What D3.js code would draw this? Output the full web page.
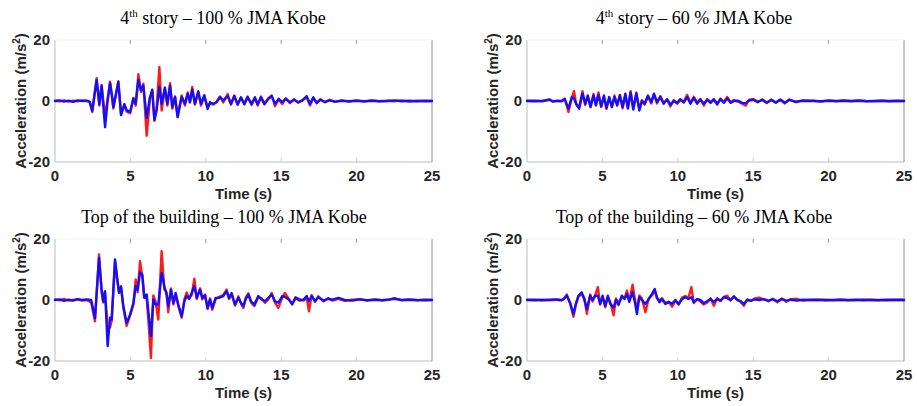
<!DOCTYPE html>
<html lang="en">
<head>
<meta charset="UTF-8">
<title>Acceleration response</title>
<script src="https://cdn.jsdelivr.net/npm/d3@7/dist/d3.min.js"></script>
<style>
  body { margin: 0; background: #fff; }
  .tick-label { font-family: "Liberation Sans", Arial, sans-serif; font-weight: bold; font-size: 15px; fill: #262626; }
  .axis-label { font-family: "Liberation Sans", Arial, sans-serif; font-weight: bold; font-size: 15px; fill: #262626; }
  .title { font-family: "Liberation Serif", "Times New Roman", serif; font-size: 18px; fill: #000; }
  .trace { fill: none; stroke-width: 2.4px; stroke-linejoin: round; stroke-linecap: round; }
</style>
</head>
<body>
<div id="chart"></div>
<script>
var xTicks = [0, 5, 10, 15, 20, 25];
var yTicks = [-20, 0, 20];

// 4th story - 100 %
var time1 = [0,0.3,0.6,0.9,1.2,1.5,1.8,2.1,2.3,
  2.47,2.76,2.94,3.09,3.32,3.49,3.65,3.76,3.87,
  4.2,4.38,4.6,4.75,4.98,5.2,5.35,5.53,5.7,5.86,
  6.08,6.3,6.45,6.59,6.74,6.92,7.07,7.29,7.45,7.63,
  7.78,7.96,8.13,8.4,8.62,8.8,8.95,9.1,9.28,9.5,
  9.68,9.9,10.12,10.28,10.5,10.72,10.94,11.16,11.45,11.67,
  11.89,12.11,12.33,12.56,12.77,13.04,13.26,13.44,13.66,13.88,
  14.15,14.37,14.59,14.83,15.07,15.3,15.58,15.85,16.13,16.4,
  16.69,16.91,17.13,17.35,17.6,17.9,18.2,18.57,19,19.5,
  20,20.5,21,21.5,22,22.5,23,23.5,24,24.5,
  25];
var blue1 = [0,0.2,-0.2,0.1,-0.3,0.2,0,0.1,-0.3,
  -3.2,6.8,-1.0,5.0,-8.6,0.2,5.8,2.4,-2.0,
  6.2,-4.6,-1.0,-3.0,-3.6,0.8,-0.9,7.0,3.5,5.0,
  -5.5,1.3,3.5,-6.2,-3.0,4.6,-0.9,4.4,-0.9,5.0,
  -2.0,1.3,-5.3,1.3,-0.9,2.4,-0.3,3.8,-0.9,3.0,
  -0.9,1.9,-2.6,-0.4,-0.9,-0.4,1.3,0.2,1.6,-0.9,
  1.6,-1.1,1.2,-1.1,1.2,-0.9,1.2,-1.1,1.2,-1.1,
  0.7,1.6,-0.9,0.7,-0.4,0.7,-0.4,0.4,-0.4,0.1,
  1.6,-0.9,1.2,-0.7,0.4,-0.4,0.2,-0.2,0.1,-0.1,
  0.1,-0.1,0.1,-0.1,0,0.2,-0.1,0.1,-0.1,0.1,
  0];
var red1 = [0.1,-0.1,0.2,-0.2,0.1,-0.1,0.2,0,-0.2,
  -3.6,7.5,-1.5,5.2,-5.0,0.5,6.3,2.0,-2.5,
  6.5,-4.2,-1.5,-3.5,-4.0,1.0,-1.5,8.8,3.0,5.7,
  -11.4,1.0,3.8,-6.5,-2.5,11.2,-3.1,4.0,-1.5,5.8,
  -2.5,1.5,-5.0,1.8,-1.5,2.8,-0.5,4.6,-1.2,3.2,
  -1.5,1.5,-2.0,-0.8,-1.2,-0.2,1.5,-0.5,2.3,-1.2,
  1.8,-1.3,1.0,-0.8,1.5,-1.3,1.0,-1.5,1.5,-0.8,
  0.9,1.8,-1.7,0.5,-1.0,0.9,-0.7,0.6,-0.6,0.3,
  1.2,-1.5,0.8,-0.5,0.6,-0.3,0.4,-0.3,0.2,-0.2,
  0.2,-0.2,0.2,-0.1,0.1,-0.1,0.2,-0.2,0.1,-0.1,
  0];

// 4th story - 60 %
var time2 = [0,0.5,1.0,1.5,1.7,2.0,2.3,2.5,2.75,2.97,
  3.12,3.26,3.46,3.68,3.86,4.03,4.21,4.41,4.57,4.74,
  4.92,5.1,5.27,5.45,5.63,5.8,5.98,6.16,6.34,6.52,
  6.69,6.87,7.05,7.25,7.45,7.62,7.8,8.02,8.24,8.42,
  8.62,8.84,9.06,9.29,9.51,9.73,9.95,10.17,10.39,10.62,
  10.84,11.06,11.28,11.5,11.72,11.95,12.17,12.39,12.61,12.83,
  13.05,13.28,13.5,13.72,14.0,14.27,14.5,14.72,15.0,15.3,
  15.6,15.9,16.2,16.5,16.8,17.1,17.4,17.8,18.3,19,
  19.5,20,20.5,21,21.5,22,22.5,23,23.5,24,
  24.5,25];
var blue2 = [0,0.1,-0.1,0.5,-0.2,0.1,-0.1,0.6,-2.5,1.3,
  0.8,-0.9,-2.5,2.4,-0.9,1.8,-2.0,1.8,-1.5,2.0,
  -1.7,1.8,-2.3,1.3,-2.0,1.3,-1.5,2.0,-2.0,2.4,
  -2.5,2.7,-2.8,2.7,-3.1,0,-0.9,1.8,-0.4,2.4,
  -0.4,1.3,-0.9,0.6,-1.2,0,-0.6,0.6,-0.5,1.3,
  -0.9,1.0,-0.9,0.4,-0.8,0.4,-0.6,0.6,-0.9,0.6,
  -0.6,0.8,-0.6,0,0.1,-0.6,-0.7,0.1,0.4,-0.4,
  0.5,-0.5,0.3,-0.6,0.5,-0.6,0.4,-0.2,0.1,0,
  -0.1,0.1,-0.1,0.1,0,0.1,-0.1,0,0.1,-0.1,
  0,0];
var red2 = [0.1,-0.1,0.1,0.4,0,-0.1,0.1,0.8,-3.6,1.0,
  3.2,-1.2,-2.0,3.2,-1.3,1.5,-1.8,2.3,-1.2,2.8,
  -2.0,1.5,-2.6,1.0,-1.8,1.8,-1.2,1.7,-2.4,2.0,
  -2.2,3.2,-2.5,2.2,-2.6,0.3,-1.2,1.5,-0.8,2.0,
  -0.8,1.6,-0.6,0.4,-1.8,0.3,-0.9,0.3,-0.3,2.0,
  -0.6,1.4,-0.5,0.7,-1.5,0.6,-0.3,0.3,-1.2,0.8,
  -0.3,1.3,-0.4,0.3,-0.2,-0.9,-1.5,0.4,0.6,-0.2,
  0.3,-0.7,0.5,-0.4,0.3,-0.8,0.5,-0.4,0.2,0.1,
  -0.2,0.2,0,0.2,-0.1,0.2,0,-0.1,0.1,0,
  0.1,0];

// top of the building - 100 %
var time3 = [0,0.3,0.6,0.9,1.2,1.5,1.8,2.1,2.4,2.65,
  2.92,3.09,3.2,3.32,3.49,3.65,3.76,3.98,4.11,4.24,
  4.38,4.53,4.75,4.98,5.2,5.35,5.48,5.64,5.79,5.92,
  6.08,6.19,6.36,6.52,6.67,6.85,7.07,7.25,7.4,7.51,
  7.69,7.85,8.0,8.18,8.4,8.58,8.73,8.89,9.06,9.24,
  9.4,9.62,9.77,9.95,10.12,10.28,10.43,10.65,10.87,11.16,
  11.38,11.54,11.71,11.94,12.16,12.33,12.49,12.64,12.82,13.0,
  13.22,13.48,13.7,13.93,14.15,14.37,14.59,14.81,15.07,15.25,
  15.5,15.73,15.95,16.25,16.5,16.69,16.84,17.02,17.24,17.46,
  17.8,18.1,18.4,18.8,19.2,19.7,20.2,20.7,21.2,21.7,
  22.2,22.5,23,23.5,24,24.5,25];
var blue3 = [0,0.2,-0.3,0.1,-0.2,0.3,0,0.2,0,-5.9,
  13.8,3.4,-0.4,2.9,-15.1,-5.8,-6.4,13.3,7.8,2.3,
  4.5,-2.0,-7.5,-4.8,-0.9,4.5,3.4,9.0,8.4,0.7,
  1.8,-3.7,-11.9,0.2,-1.5,-1.5,8.9,4.5,1.8,-2.0,
  3.4,-0.9,2.3,-1.5,-5.3,-0.4,1.3,0.4,2.3,4.5,
  0.7,3.4,0.7,1.5,-2.6,0.2,-2.6,0.7,0.7,1.3,
  2.9,0.7,2.3,-1.5,0.7,-0.9,-2.0,0.2,1.8,-0.4,
  -1.5,1.3,0.2,-0.4,0.7,1.8,-0.4,-0.9,1.3,1.0,
  0.2,-1.3,0.7,-0.2,0.2,1.3,-0.4,1.3,-0.4,0.9,
  -0.2,0.4,0.1,0.7,0,-0.2,0.2,-0.1,0.1,-0.1,
  0.2,0.4,0,0.1,-0.1,0.1,0];
var red3 = [0.2,-0.1,0.4,-0.2,0,0.2,-0.2,0,-0.8,-7.0,
  14.9,2.5,-0.8,2.0,-8.6,-9.0,-6.8,12.5,7.0,3.0,
  4.0,-2.5,-8.5,-5.0,-1.5,6.7,2.5,12.7,7.5,1.0,
  0.5,-6.4,-19.0,1.5,-0.5,-6.4,16.0,3.5,2.5,-4.0,
  3.8,-1.5,1.5,-2.0,-5.8,0.2,2.5,0.6,1.5,7.0,
  0.3,3.8,0.2,1.8,-3.0,0.5,-3.2,0.3,1.0,1.6,
  3.4,0.3,1.8,-1.8,1.2,-1.2,-2.6,0.7,2.2,-0.8,
  -2.0,0.8,0.6,-0.9,0.3,2.3,-0.9,-2.6,0.8,2.3,
  0.4,-1.5,0.9,0.2,-0.2,0.9,-3.7,1.6,-0.6,1.2,
  -0.5,0.6,-0.2,0.4,-0.3,0.1,0.3,-0.2,0.2,-0.1,
  0.1,0.6,-0.1,0.2,0,-0.1,0];

// top of the building - 60 %
var time4 = [0,0.5,1.0,1.5,1.8,2.1,2.3,2.45,2.64,2.85,
  3.08,3.24,3.41,3.63,3.81,3.97,4.19,4.35,4.52,4.7,
  4.85,5.01,5.19,5.36,5.52,5.74,5.9,6.07,6.29,6.47,
  6.63,6.78,7.0,7.18,7.29,7.45,7.62,7.85,8.07,8.29,
  8.47,8.62,8.78,8.95,9.18,9.4,9.62,9.84,10.06,10.28,
  10.5,10.7,10.9,11.06,11.28,11.5,11.72,11.95,12.17,12.39,
  12.61,12.83,13.05,13.28,13.5,13.72,13.94,14.16,14.38,14.6,
  14.85,15.1,15.4,15.7,16.0,16.3,16.6,16.9,17.2,17.5,
  17.9,18.3,18.8,19.3,19.8,20.3,20.8,21.3,21.8,22.3,
  22.8,23.3,23.8,24.3,24.8,25];
var blue4 = [0,0.1,-0.1,0.1,0.2,0,-0.1,0.3,1.4,-0.8,
  -4.6,-1.3,1.4,2.5,0,-3.0,1.4,0,1.4,1.4,
  -1.3,1.4,-1.9,1.4,-1.3,-2.4,0,-1.6,1.4,0.3,
  2.0,-0.5,2.5,-1.3,-4.6,0.9,0,-1.3,0.3,2.0,
  3.6,0.9,-0.7,0.3,-1.3,-0.7,-1.2,0,-1.3,0.3,
  0.9,0.3,0.9,-0.7,0.3,0,-1.0,-0.4,0.3,-0.6,
  0.3,-0.2,0.9,0.6,0,1.1,0,-0.4,-1.3,0,
  -0.2,0.2,0,0.3,-0.2,0.2,-0.4,0.3,-0.2,0.1,
  -0.2,0.1,0,0.1,-0.1,0,0.1,-0.1,0,0.1,
  0,-0.1,0.1,0,0.1,0];
var red4 = [0.1,-0.1,0.1,-0.1,0,0.2,0,0.5,1.8,-1.0,
  -5.5,-1.5,1.0,2.0,0.5,-4.5,1.8,-0.5,1.5,4.2,
  -1.5,1.0,-2.4,1.0,-0.6,-5.0,0.5,-1.0,1.0,0.5,
  3.1,-0.6,5.0,-0.5,-2.5,1.5,0.5,-4.0,0.5,1.5,
  3.0,0.5,-0.2,0.6,-1.0,-0.5,-2.2,-0.3,-1.5,0.8,
  1.3,0.6,4.2,-1.0,0.3,-0.5,-1.5,-0.8,0.6,-1.9,
  0.6,-0.3,1.0,1.4,-0.2,1.2,0.2,-0.6,-1.9,0.2,
  -0.3,0.5,0.8,0.2,-0.4,0.4,-0.8,0.5,-0.6,0.3,
  0.4,-0.2,0.1,0,0.1,-0.1,0.1,0,0.1,-0.1,
  0.1,0,-0.1,0.1,0,0];

var panels = [
  {pre: "4", sup: "th", post: " story \u2013 100 % JMA Kobe", t: time1, red: red1, blue: blue1, left: 55, top: 40, titleX: 223},
  {pre: "4", sup: "th", post: " story \u2013 60 % JMA Kobe", t: time2, red: red2, blue: blue2, left: 527, top: 40, titleX: 694},
  {pre: "Top of the building \u2013 100 % JMA Kobe", sup: "", post: "", t: time3, red: red3, blue: blue3, left: 55, top: 239, titleX: 224},
  {pre: "Top of the building \u2013 60 % JMA Kobe", sup: "", post: "", t: time4, red: red4, blue: blue4, left: 527, top: 239, titleX: 694}
];

var width = 917, height = 406;
var plotW = 377, plotH = 122;

var svg = d3.select("#chart").append("svg")
  .attr("width", width)
  .attr("height", height);

panels.forEach(function (p) {
  var g = svg.append("g").attr("transform", "translate(" + p.left + "," + p.top + ")");

  var x = d3.scaleLinear().domain([0, 25]).range([0, plotW]);
  var y = d3.scaleLinear().domain([-20, 20]).range([plotH, 0]);

  // box: left, bottom, right (top edge faint)
  g.append("line").attr("x1", 0).attr("x2", 0).attr("y1", 0).attr("y2", plotH)
    .attr("stroke", "#bdbdbd");
  g.append("line").attr("x1", 0).attr("x2", plotW).attr("y1", plotH).attr("y2", plotH)
    .attr("stroke", "#bdbdbd");
  g.append("line").attr("x1", plotW).attr("x2", plotW).attr("y1", 0).attr("y2", plotH)
    .attr("stroke", "#8c8c8c");
  g.append("line").attr("x1", 0).attr("x2", plotW).attr("y1", 0).attr("y2", 0)
    .attr("stroke", "#f2f2f2");

  // inner tick marks
  g.selectAll(".xt-top").data(xTicks.slice(1, -1)).enter().append("line")
    .attr("x1", function (d) { return x(d); }).attr("x2", function (d) { return x(d); })
    .attr("y1", 0).attr("y2", 4).attr("stroke", "#9a9a9a");
  g.selectAll(".xt-bot").data(xTicks.slice(1, -1)).enter().append("line")
    .attr("x1", function (d) { return x(d); }).attr("x2", function (d) { return x(d); })
    .attr("y1", plotH).attr("y2", plotH - 4).attr("stroke", "#d0d0d0");

  // tick labels
  g.selectAll(".xl").data(xTicks).enter().append("text")
    .attr("class", "tick-label")
    .attr("x", function (d) { return x(d); })
    .attr("y", plotH + 19)
    .attr("text-anchor", "middle")
    .text(function (d) { return d; });
  g.selectAll(".yl").data(yTicks).enter().append("text")
    .attr("class", "tick-label")
    .attr("x", -5)
    .attr("y", function (d) { return y(d) + 5; })
    .attr("text-anchor", "end")
    .text(function (d) { return d; });

  // axis labels
  g.append("text").attr("class", "axis-label")
    .attr("x", plotW / 2).attr("y", plotH + 37)
    .attr("text-anchor", "middle")
    .text("Time (s)");
  var yl = g.append("text").attr("class", "axis-label")
    .attr("transform", "translate(-29," + (plotH / 2) + ") rotate(-90)")
    .attr("text-anchor", "middle");
  yl.append("tspan").text("Acceleration (m/s");
  yl.append("tspan").attr("dy", -6).style("font-size", "10px").text("2");
  yl.append("tspan").attr("dy", 6).text(")");

  // title
  var tt = svg.append("text").attr("class", "title")
    .attr("x", p.titleX).attr("y", p.top - 16)
    .attr("text-anchor", "middle");
  tt.append("tspan").text(p.pre);
  if (p.sup) {
    tt.append("tspan").attr("dy", -7).style("font-size", "11px").text(p.sup);
    tt.append("tspan").attr("dy", 7).text(p.post);
  }

  var line = d3.line()
    .x(function (d) { return x(d[0]); })
    .y(function (d) { return y(d[1]); });

  g.append("path").attr("class", "trace").attr("stroke", "#ff1a1a")
    .attr("d", line(p.t.map(function (t, i) { return [t, p.red[i]]; })));
  g.append("path").attr("class", "trace").attr("stroke", "#1010ff")
    .attr("d", line(p.t.map(function (t, i) { return [t, p.blue[i]]; })));
});
</script>
</body>
</html>
